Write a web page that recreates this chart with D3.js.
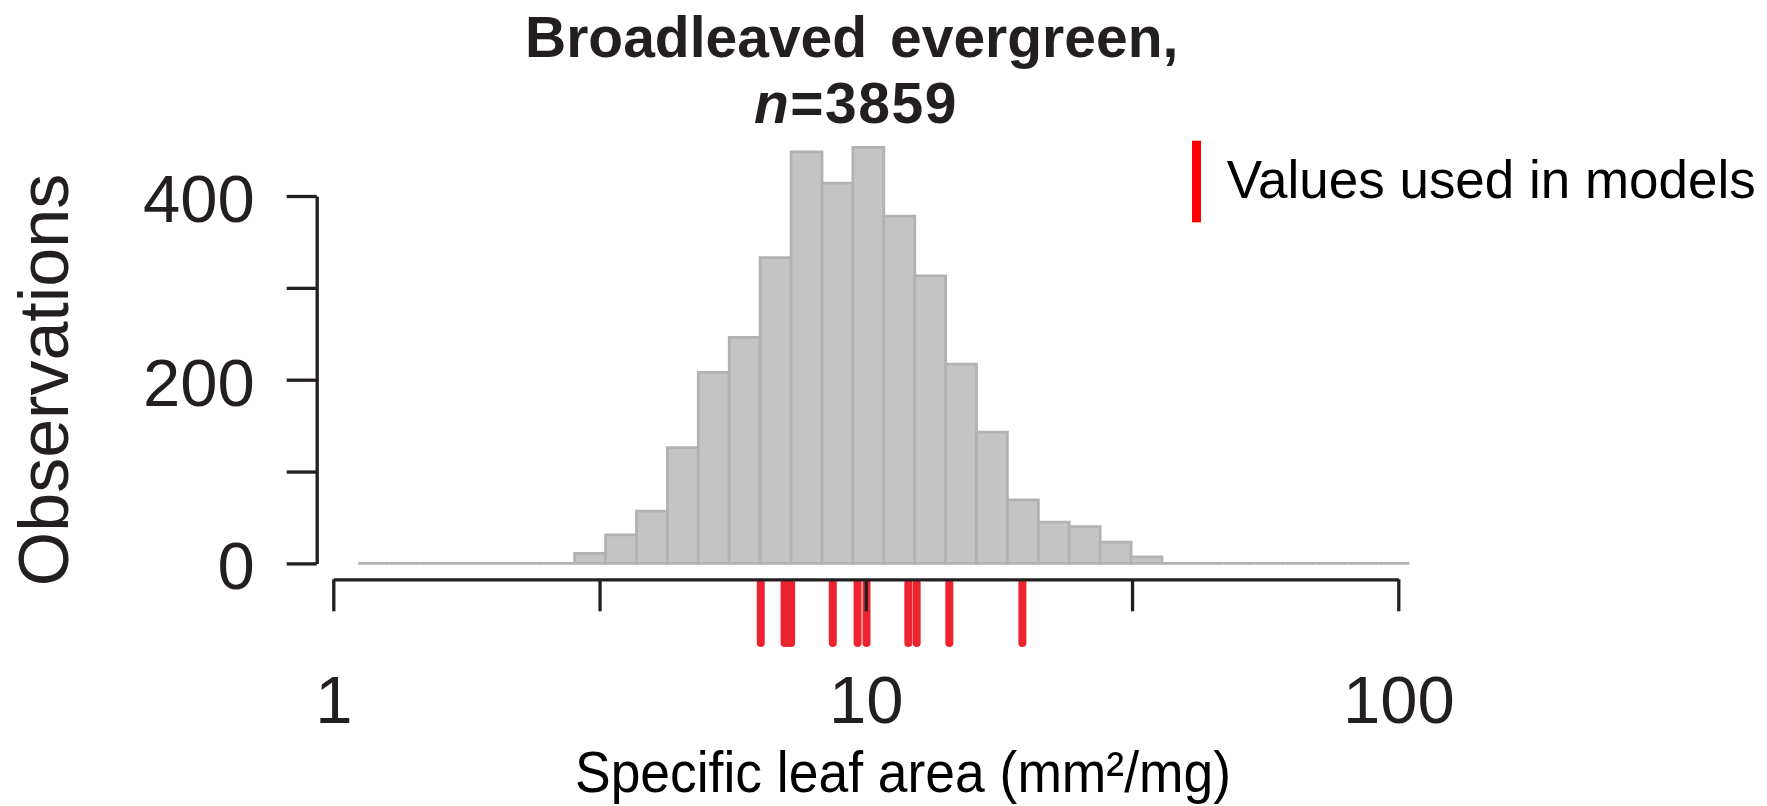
<!DOCTYPE html>
<html>
<head>
<meta charset="utf-8">
<script src="https://cdn.jsdelivr.net/npm/d3@7"></script>
<style>
  body { margin: 0; background: #fff; }
  text { font-family: "Liberation Sans", Arial, sans-serif; }
</style>
</head>
<body>
<div class="canvas"></div>
<script>
// histogram bins (SLA, mm2/mg) and counts
const binEdges = [1.114, 1.274, 1.456, 1.664, 1.902, 2.174, 2.485, 2.840, 3.246, 3.710,
  4.241, 4.847, 5.541, 6.333, 7.239, 8.274, 9.457, 10.81, 12.36, 14.12,
  16.14, 18.45, 21.09, 24.10, 27.55, 31.49, 35.99, 41.14, 47.02, 53.75,
  61.44, 70.22, 80.27, 91.75, 104.9]
const counts = [0, 0, 0, 0, 0, 0, 0, 11, 31, 57,
  126, 208, 246, 333, 448, 414, 453, 378, 313, 217,
  143, 69, 45, 40, 23, 7, 0, 0, 0, 0,
  0, 0, 0, 0]

// values used in models (rug)
const rugValues = [6.35, 7.04, 7.14, 7.24, 8.67, 9.65, 10.03, 12.02, 12.46, 14.35, 19.68]

const yTicks = [0, 100, 200, 300, 400]
const yTickLabels = ['0', '', '200', '', '400']
const xTicks = [1, 3.1623, 10, 31.623, 100]
const xTickLabels = ['1', '', '10', '', '100']

const svgWidth = 1767, svgHeight = 806
const ink = '#231f20'

const svg = d3.select('.canvas')
  .append('svg')
  .attr('width', svgWidth)
  .attr('height', svgHeight)

// scales
const x = d3.scaleLog().domain([1, 100]).range([333.3, 1398.3])
const y = d3.scaleLinear().domain([0, 400]).range([563.4, 196])

// bars - drawn as paths so empty bins still show as a flat line
const bins = counts.map((c, i) => ({ x0: binEdges[i], x1: binEdges[i + 1], count: c }))

svg.append('g')
  .selectAll('path')
  .data(bins)
  .enter()
  .append('path')
  .attr('d', d => {
    const l = x(d.x0), r = x(d.x1), b = y(0), t = y(d.count)
    return `M${l},${b}L${l},${t}L${r},${t}L${r},${b}Z`
  })
  .attr('fill', '#c4c4c4')
  .attr('stroke', '#b2b2b2')
  .attr('stroke-width', 2.8)

// rug
svg.append('g')
  .selectAll('line')
  .data(rugValues)
  .enter()
  .append('line')
  .attr('x1', d => x(d))
  .attr('x2', d => x(d))
  .attr('y1', 583)
  .attr('y2', 643)
  .attr('stroke', '#ee2330')
  .attr('stroke-width', 8)
  .attr('stroke-linecap', 'round')

// axes
const yAxis = d3.axisLeft(y)
  .tickValues(yTicks)
  .tickSize(30)
  .tickSizeOuter(0)
  .tickPadding(32)
  .tickFormat((d, i) => yTickLabels[i])

const xAxis = d3.axisBottom(x)
  .tickValues(xTicks)
  .tickSize(32)
  .tickSizeOuter(0)
  .tickPadding(64)
  .tickFormat((d, i) => xTickLabels[i])

const yAxisGroup = svg.append('g')
  .attr('transform', 'translate(316.7, 0)')
  .call(yAxis)

const xAxisGroup = svg.append('g')
  .attr('transform', 'translate(0, 579.3)')
  .call(xAxis)

;[xAxisGroup, yAxisGroup].forEach(g => {
  g.selectAll('path, line')
    .attr('stroke', ink)
    .attr('stroke-width', 3.3)
  g.selectAll('text')
    .attr('fill', ink)
    .style('font-size', '67px')
    .style('font-family', '"Liberation Sans", Arial, sans-serif')
})
yAxisGroup.selectAll('text').attr('dy', '0.38em')

// y label
svg.append('text')
  .attr('transform', 'translate(68, 380) rotate(-90)')
  .attr('text-anchor', 'middle')
  .attr('fill', ink)
  .style('font-size', '70px')
  .text('Observations')

// x label
svg.append('text')
  .attr('x', 575)
  .attr('y', 792)
  .attr('textLength', 656)
  .attr('lengthAdjust', 'spacingAndGlyphs')
  .attr('fill', '#000')
  .style('font-size', '58px')
  .text('Specific leaf area (mm²/mg)')

// title
svg.append('text')
  .attr('x', 525)
  .attr('y', 56.7)
  .attr('fill', ink)
  .style('font-size', '57px')
  .style('font-weight', 'bold')
  .style('word-spacing', '7px')
  .text('Broadleaved evergreen,')

const t2 = svg.append('text')
  .attr('x', 754)
  .attr('y', 123.3)
  .attr('fill', ink)
  .style('font-size', '57px')
  .style('font-weight', 'bold')
  .style('letter-spacing', '1.5px')
t2.append('tspan').style('font-style', 'italic').text('n')
t2.append('tspan').text('=3859')

// legend
svg.append('rect')
  .attr('x', 1192)
  .attr('y', 140.7)
  .attr('width', 9)
  .attr('height', 81.6)
  .attr('fill', '#ff0000')

svg.append('text')
  .attr('x', 1226.7)
  .attr('y', 198.3)
  .attr('textLength', 529)
  .attr('lengthAdjust', 'spacingAndGlyphs')
  .attr('fill', '#000')
  .style('font-size', '54px')
  .text('Values used in models')
</script>
</body>
</html>
